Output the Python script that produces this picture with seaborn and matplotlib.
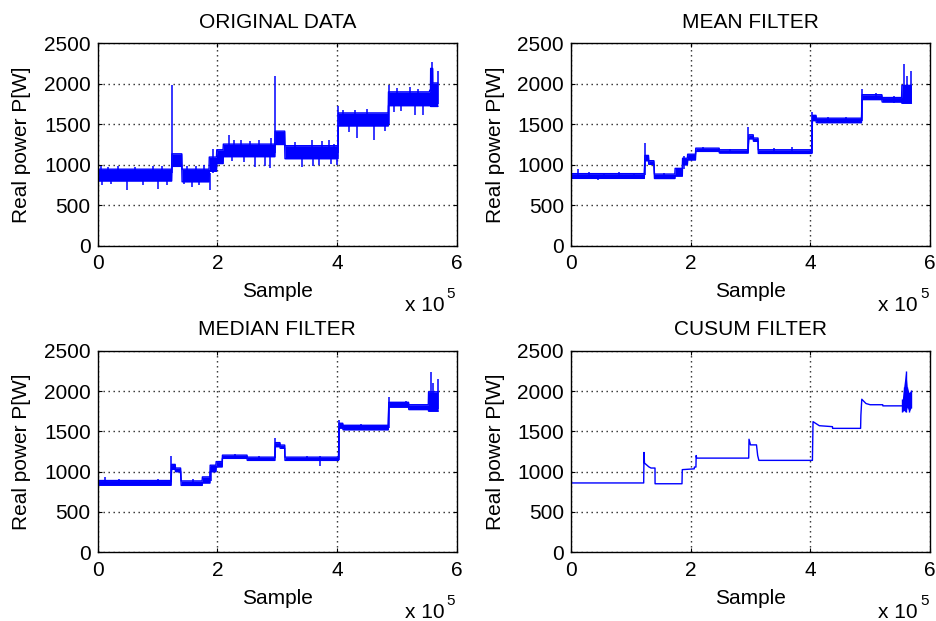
import matplotlib
matplotlib.use("Agg")
import matplotlib.pyplot as plt
import pandas as pd
import seaborn as sns

# ---------------------------------------------------------------------------
# Power levels (W) of each operating segment: sample start, sample end,
# lower and upper edge of the plotted band.
# ---------------------------------------------------------------------------
orig_start = [0, 1.240e5, 1.410e5, 1.865e5, 1.990e5, 2.100e5, 2.965e5, 3.130e5, 4.020e5, 4.860e5, 5.548e5, 5.565e5, 5.600e5]
orig_end = [1.235e5, 1.405e5, 1.860e5, 1.985e5, 2.095e5, 2.960e5, 3.125e5, 4.015e5, 4.855e5, 5.545e5, 5.562e5, 5.598e5, 5.685e5]
orig_lo = [800, 980, 790, 920, 1015, 1100, 1250, 1075, 1480, 1730, 1730, 1720, 1720]
orig_hi = [945, 1135, 945, 1095, 1185, 1255, 1415, 1235, 1640, 1900, 1920, 2190, 2010]
# isolated spikes / noise peaks: sample, low, high
orig_spike_x = [0.050e5, 0.067e5, 0.180e5, 0.230e5, 0.340e5, 0.485e5, 0.620e5, 0.760e5, 0.930e5, 1.010e5,
                1.080e5, 1.150e5, 1.237e5, 1.450e5, 1.500e5, 1.570e5, 1.650e5, 1.700e5, 1.780e5, 1.870e5,
                1.930e5, 2.200e5, 2.250e5, 2.280e5, 2.400e5, 2.450e5, 2.550e5, 2.630e5, 2.700e5, 2.800e5,
                2.880e5, 2.900e5, 2.963e5, 3.300e5, 3.410e5, 3.580e5, 3.600e5, 3.700e5, 3.750e5, 3.860e5,
                3.900e5, 3.950e5, 4.000e5, 4.020e5, 4.100e5, 4.200e5, 4.300e5, 4.330e5, 4.500e5, 4.620e5,
                4.800e5, 4.865e5, 4.950e5, 5.000e5, 5.070e5, 5.220e5, 5.300e5, 5.350e5, 5.440e5, 5.580e5,
                5.680e5]
orig_spike_lo = [900, 745, 900, 760, 900, 682, 900, 745, 900, 700,
                 900, 745, 900, 760, 900, 730, 900, 750, 900, 690,
                 900, 1200, 1050, 1200, 1200, 1040, 1200, 970, 1200, 980,
                 960, 1200, 1150, 1150, 971, 1150, 980, 1000, 1150, 1150,
                 1010, 1150, 1000, 1150, 1550, 1400, 1550, 1335, 1550, 1300,
                 1420, 1500, 1650, 1800, 1660, 1800, 1620, 1800, 1611, 1800,
                 1750]
orig_spike_hi = [985, 850, 975, 850, 980, 850, 975, 850, 985, 850,
                 990, 850, 1990, 850, 980, 850, 985, 850, 1000, 900,
                 1200, 1364, 1150, 1310, 1300, 1150, 1290, 1150, 1300, 1150,
                 1150, 1330, 2090, 1280, 1150, 1300, 1150, 1150, 1290, 1300,
                 1150, 1260, 1150, 1730, 1680, 1550, 1670, 1550, 1690, 1550,
                 1550, 1980, 1800, 1950, 1800, 1962, 1800, 1930, 1800, 2275,
                 2160]

mean_start = [0, 1.235e5, 1.300e5, 1.395e5, 1.740e5, 1.865e5, 1.950e5, 2.085e5, 2.480e5, 2.970e5, 3.050e5, 3.130e5, 4.035e5, 4.100e5, 4.865e5, 5.200e5, 5.530e5]
mean_end = [1.225e5, 1.295e5, 1.385e5, 1.735e5, 1.860e5, 1.945e5, 2.080e5, 2.475e5, 2.960e5, 3.045e5, 3.125e5, 4.025e5, 4.095e5, 4.855e5, 5.195e5, 5.525e5, 5.690e5]
mean_lo = [832, 1050, 1005, 830, 860, 1000, 1060, 1165, 1145, 1320, 1290, 1140, 1545, 1520, 1805, 1775, 1760]
mean_hi = [890, 1115, 1050, 885, 955, 1080, 1130, 1205, 1185, 1370, 1330, 1185, 1610, 1575, 1865, 1830, 1980]
mean_spike_x = [0.120e5, 0.300e5, 0.450e5, 0.550e5, 0.800e5, 1.050e5, 1.230e5, 1.550e5, 1.780e5, 1.890e5,
                2.200e5, 2.650e5, 2.965e5, 3.400e5, 3.700e5, 4.035e5, 4.300e5, 4.600e5, 4.865e5, 5.100e5,
                5.400e5, 5.570e5, 5.610e5, 5.680e5]
mean_spike_lo = [860, 860, 815, 860, 860, 860, 870, 860, 860, 950,
                 1160, 1160, 1170, 1150, 1150, 1150, 1540, 1540, 1540, 1820,
                 1760, 1850, 1850, 1780]
mean_spike_hi = [950, 905, 860, 900, 905, 900, 1265, 900, 960, 1110,
                 1225, 1200, 1465, 1205, 1215, 1650, 1595, 1595, 1935, 1880,
                 1850, 2250, 2100, 2160]

median_start = [0, 1.235e5, 1.300e5, 1.395e5, 1.750e5, 1.880e5, 1.980e5, 2.085e5, 2.500e5, 2.970e5, 3.050e5, 3.130e5, 4.035e5, 4.100e5, 4.865e5, 5.200e5, 5.530e5]
median_end = [1.225e5, 1.295e5, 1.385e5, 1.745e5, 1.875e5, 1.975e5, 2.080e5, 2.495e5, 2.960e5, 3.045e5, 3.125e5, 4.025e5, 4.095e5, 4.855e5, 5.195e5, 5.525e5, 5.690e5]
median_lo = [832, 1030, 1000, 830, 860, 1000, 1060, 1165, 1140, 1310, 1290, 1140, 1540, 1520, 1800, 1770, 1750]
median_hi = [890, 1090, 1045, 885, 935, 1080, 1125, 1205, 1180, 1360, 1330, 1180, 1600, 1575, 1860, 1830, 1990]
median_spike_x = [0.120e5, 0.350e5, 0.700e5, 1.000e5, 1.230e5, 1.600e5, 1.900e5, 2.300e5, 2.700e5, 2.965e5,
                  3.500e5, 3.720e5, 4.035e5, 4.400e5, 4.865e5, 5.150e5, 5.570e5, 5.610e5, 5.680e5]
median_spike_lo = [860, 860, 860, 860, 870, 860, 880, 1160, 1150, 1170,
                   1150, 1070, 1150, 1540, 1540, 1820, 1850, 1850, 1780]
median_spike_hi = [935, 905, 900, 905, 1190, 905, 1060, 1220, 1200, 1422,
                   1200, 1200, 1640, 1595, 1925, 1875, 2240, 2100, 2150]

cusum_x = [0, 1.215e5, 1.220e5, 1.228e5, 1.300e5, 1.337e5, 1.404e5, 1.405e5, 1.855e5, 1.860e5, 2.060e5, 2.062e5,
           2.088e5, 2.092e5, 2.100e5, 2.970e5, 2.975e5, 3.000e5, 3.100e5, 3.120e5, 3.140e5, 4.035e5, 4.045e5,
           4.150e5, 4.370e5, 4.372e5, 4.840e5, 4.845e5, 4.860e5, 4.930e5, 5.000e5, 5.210e5, 5.212e5, 5.535e5]
cusum_y = [860, 860, 1238, 1107, 1060, 1045, 1045, 850, 850, 1025, 1035, 1057,
           1057, 1200, 1168, 1168, 1402, 1332, 1332, 1200, 1140, 1140, 1620,
           1570, 1558, 1537, 1537, 1700, 1898, 1845, 1830, 1830, 1816, 1816]
cusum_noise_x = [5.537e5, 5.560e5, 5.594e5, 5.620e5, 5.650e5, 5.683e5]
cusum_noise_lo = [1740, 1760, 1737, 1800, 1740, 1790]
cusum_noise_hi = [1900, 2050, 2252, 2050, 1980, 2010]

titles = ["ORIGINAL DATA", "MEAN FILTER", "MEDIAN FILTER", "CUSUM FILTER"]
x_ticks = [0, 2e5, 4e5, 6e5]
x_tick_labels = ["0", "2", "4", "6"]
y_ticks = [0, 500, 1000, 1500, 2000, 2500]

BLUE = "#0000ff"

sns.set_theme(style="ticks")
plt.rcParams["font.family"] = ["Liberation Sans", "DejaVu Sans"]
plt.rcParams["axes.linewidth"] = 1.0
plt.rcParams["axes.edgecolor"] = "black"
plt.rcParams["text.color"] = "black"
plt.rcParams["axes.labelcolor"] = "black"
plt.rcParams["axes.titlecolor"] = "black"

fig = plt.figure(figsize=(9.36, 6.21), dpi=100)
fig.patch.set_facecolor("white")

W, H = 936.0, 621.0
boxes = [(97.7, 43.3, 456.7, 245.7), (571.0, 43.3, 930.0, 245.7),
         (97.7, 350.7, 456.7, 552.3), (571.0, 350.7, 930.0, 552.3)]
axes = []
for (l, t, r, b) in boxes:
    axes.append(fig.add_axes([l / W, 1 - b / H, (r - l) / W, (b - t) / H]))


def band_frame(start, end, lo, hi):
    xs, los, his = [], [], []
    for s, e, a, b in zip(start, end, lo, hi):
        xs += [s, e]
        los += [a, a]
        his += [b, b]
    return pd.DataFrame({"x": xs, "lo": los, "hi": his})


def draw_band(ax, start, end, lo, hi, sx, slo, shi):
    df = band_frame(start, end, lo, hi)
    ax.fill_between(df["x"], df["lo"], df["hi"], color=BLUE, lw=0)
    sns.lineplot(data=df, x="x", y="lo", ax=ax, color=BLUE, lw=1,
                 estimator=None, sort=False)
    sns.lineplot(data=df, x="x", y="hi", ax=ax, color=BLUE, lw=1,
                 estimator=None, sort=False)
    ax.vlines(sx, slo, shi, color=BLUE, lw=1.1)


draw_band(axes[0], orig_start, orig_end, orig_lo, orig_hi,
          orig_spike_x, orig_spike_lo, orig_spike_hi)
draw_band(axes[1], mean_start, mean_end, mean_lo, mean_hi,
          mean_spike_x, mean_spike_lo, mean_spike_hi)
draw_band(axes[2], median_start, median_end, median_lo, median_hi,
          median_spike_x, median_spike_lo, median_spike_hi)

cusum_df = pd.DataFrame({"x": cusum_x, "y": cusum_y})
sns.lineplot(data=cusum_df, x="x", y="y", ax=axes[3], color=BLUE, lw=1,
             estimator=None, sort=False)
axes[3].fill_between(cusum_noise_x, cusum_noise_lo, cusum_noise_hi, color=BLUE, lw=0)
axes[3].vlines(cusum_noise_x, cusum_noise_lo, cusum_noise_hi, color=BLUE, lw=1)

for ax, title in zip(axes, titles):
    ax.set_xlim(0, 6e5)
    ax.set_ylim(0, 2500)
    ax.set_xticks(x_ticks)
    ax.set_xticklabels(x_tick_labels)
    ax.set_yticks(y_ticks)
    ax.set_xlabel("")
    ax.set_ylabel("Real power P[W]", fontsize=15, labelpad=9, color="black")
    ax.set_title(title, fontsize=15, pad=11, color="black")
    ax.tick_params(direction="in", length=3, width=0.8, top=True, right=True,
                   labelsize=15, colors="black", pad=5)
    ax.tick_params(axis="x", pad=6)
    ax.grid(True, color="0.15", linestyle=(0, (1, 2.6)), lw=1)
    for sp in ax.spines.values():
        sp.set_visible(True)
        sp.set_color("black")
        sp.set_linewidth(1.0)
    ax.set_facecolor("white")
    ax.annotate("Sample", xy=(0.5, 0), xycoords="axes fraction",
                xytext=(0, -33), textcoords="offset points",
                ha="center", va="center", fontsize=15, color="black")
    ax.annotate("x 10", xy=(1, 0), xycoords="axes fraction",
                xytext=(-9, -43), textcoords="offset points",
                ha="right", va="center", fontsize=15, color="black")
    ax.annotate("5", xy=(1, 0), xycoords="axes fraction",
                xytext=(-1, -35), textcoords="offset points",
                ha="right", va="center", fontsize=11, color="black")

fig.savefig("out.png", dpi=100, facecolor="white")
